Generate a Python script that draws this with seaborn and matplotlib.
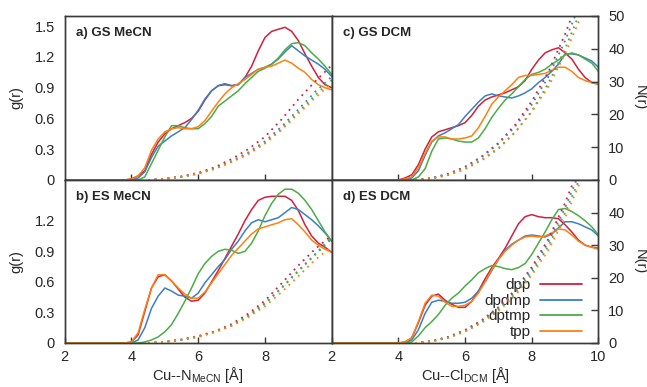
import matplotlib
matplotlib.use("Agg")
import matplotlib.pyplot as plt
import pandas as pd
import seaborn as sns
from matplotlib.lines import Line2D

# ---------------- data ----------------
systems = ["dpp", "dpdmp", "dptmp", "tpp"]
colors = ["#d21f3c", "#3b7fc4", "#4aad45", "#ff8010"]

r_g = [2.0, 3.8, 4.0, 4.2, 4.4, 4.6, 4.8, 5.0, 5.2, 5.4, 5.6, 5.8, 6.0, 6.2, 6.4, 6.6,
       6.8, 7.0, 7.2, 7.4, 7.6, 7.8, 8.0, 8.2, 8.4, 8.6, 8.8, 9.0, 9.2, 9.4, 9.6, 9.8, 10.0]

# a) GS MeCN  g(r)
g_a_dpp   = [0, 0, 0.01, 0.04, 0.09, 0.25, 0.37, 0.45, 0.50, 0.53, 0.56, 0.60, 0.67, 0.78, 0.87, 0.92,
             0.93, 0.92, 0.93, 1.00, 1.11, 1.26, 1.39, 1.45, 1.47, 1.49, 1.45, 1.36, 1.23, 1.11, 1.00, 0.93, 0.90]
g_a_dpdmp = [0, 0, 0, 0.02, 0.08, 0.22, 0.33, 0.38, 0.43, 0.47, 0.51, 0.59, 0.68, 0.79, 0.87, 0.92,
             0.94, 0.92, 0.93, 1.00, 1.04, 1.08, 1.10, 1.13, 1.18, 1.25, 1.31, 1.26, 1.21, 1.17, 1.13, 1.08, 1.01]
g_a_dptmp = [0, 0, 0, 0, 0.03, 0.16, 0.29, 0.42, 0.53, 0.53, 0.51, 0.50, 0.50, 0.55, 0.62, 0.72,
             0.77, 0.82, 0.87, 0.94, 1.00, 1.06, 1.09, 1.13, 1.19, 1.27, 1.33, 1.34, 1.31, 1.24, 1.18, 1.11, 1.03]
g_a_tpp   = [0, 0, 0.01, 0.04, 0.12, 0.29, 0.40, 0.47, 0.50, 0.51, 0.50, 0.50, 0.52, 0.58, 0.67, 0.76,
             0.84, 0.90, 0.94, 0.98, 1.03, 1.08, 1.10, 1.11, 1.14, 1.17, 1.14, 1.09, 1.05, 0.98, 0.93, 0.90, 0.88]

# b) ES MeCN  g(r)
g_b_dpp   = [0, 0, 0.01, 0.08, 0.31, 0.54, 0.65, 0.67, 0.61, 0.53, 0.45, 0.41, 0.42, 0.49, 0.60, 0.71,
             0.83, 0.95, 1.07, 1.20, 1.31, 1.40, 1.43, 1.44, 1.44, 1.44, 1.40, 1.30, 1.16, 1.05, 0.98, 0.94, 0.89]
g_b_dpdmp = [0, 0, 0, 0.03, 0.15, 0.34, 0.46, 0.54, 0.51, 0.47, 0.46, 0.44, 0.49, 0.59, 0.67, 0.75,
             0.82, 0.92, 1.00, 1.10, 1.18, 1.21, 1.19, 1.21, 1.23, 1.28, 1.33, 1.31, 1.26, 1.21, 1.15, 1.08, 1.00]
g_b_dptmp = [0, 0, 0, 0, 0.01, 0.03, 0.06, 0.11, 0.18, 0.29, 0.41, 0.54, 0.68, 0.78, 0.85, 0.90,
             0.92, 0.91, 0.88, 0.90, 0.98, 1.10, 1.25, 1.37, 1.46, 1.51, 1.51, 1.47, 1.40, 1.31, 1.20, 1.09, 1.00]
g_b_tpp   = [0, 0, 0.01, 0.10, 0.33, 0.54, 0.67, 0.67, 0.61, 0.54, 0.48, 0.44, 0.44, 0.50, 0.59, 0.68,
             0.77, 0.86, 0.93, 1.00, 1.07, 1.12, 1.14, 1.16, 1.18, 1.21, 1.22, 1.16, 1.09, 1.01, 0.96, 0.92, 0.89]

# c) GS DCM  g(r)
g_c_dpp   = [0, 0, 0, 0.02, 0.05, 0.15, 0.30, 0.42, 0.47, 0.49, 0.51, 0.53, 0.56, 0.63, 0.72, 0.78,
             0.81, 0.83, 0.85, 0.88, 0.91, 0.97, 1.08, 1.17, 1.24, 1.27, 1.29, 1.24, 1.18, 1.08, 1.00, 0.95, 0.95]
g_c_dpdmp = [0, 0, 0, 0, 0.02, 0.09, 0.24, 0.37, 0.43, 0.46, 0.50, 0.54, 0.62, 0.69, 0.76, 0.82,
             0.84, 0.82, 0.81, 0.80, 0.82, 0.85, 0.89, 0.95, 1.00, 1.06, 1.13, 1.23, 1.23, 1.22, 1.19, 1.16, 1.10]
g_c_dptmp = [0, 0, 0, 0, 0, 0.03, 0.11, 0.28, 0.40, 0.41, 0.40, 0.38, 0.37, 0.37, 0.41, 0.50,
             0.61, 0.70, 0.78, 0.84, 0.91, 0.98, 1.03, 1.05, 1.08, 1.13, 1.17, 1.22, 1.24, 1.22, 1.18, 1.14, 1.06]
g_c_tpp   = [0, 0, 0, 0.01, 0.03, 0.12, 0.26, 0.38, 0.42, 0.42, 0.40, 0.40, 0.41, 0.43, 0.51, 0.62,
             0.74, 0.81, 0.87, 0.93, 1.00, 1.02, 1.02, 1.03, 1.04, 1.07, 1.10, 1.10, 1.06, 1.00, 0.97, 0.95, 0.93]

# d) ES DCM  g(r)
g_d_dpp   = [0, 0, 0, 0.01, 0.05, 0.20, 0.37, 0.46, 0.48, 0.42, 0.38, 0.35, 0.35, 0.41, 0.51, 0.63,
             0.74, 0.83, 0.93, 1.05, 1.17, 1.24, 1.26, 1.24, 1.23, 1.23, 1.22, 1.16, 1.09, 1.01, 0.96, 0.94, 0.93]
g_d_dpdmp = [0, 0, 0, 0, 0.03, 0.13, 0.29, 0.40, 0.42, 0.41, 0.39, 0.39, 0.40, 0.44, 0.51, 0.60,
             0.71, 0.82, 0.91, 0.97, 1.01, 1.05, 1.06, 1.05, 1.04, 1.07, 1.13, 1.19, 1.19, 1.17, 1.14, 1.11, 1.05]
g_d_dptmp = [0, 0, 0, 0, 0.01, 0.07, 0.15, 0.21, 0.28, 0.37, 0.44, 0.49, 0.56, 0.62, 0.69, 0.73,
             0.76, 0.75, 0.73, 0.72, 0.74, 0.78, 0.87, 0.98, 1.09, 1.21, 1.31, 1.32, 1.29, 1.25, 1.20, 1.14, 1.06]
g_d_tpp   = [0, 0, 0, 0.01, 0.05, 0.21, 0.39, 0.47, 0.46, 0.40, 0.36, 0.36, 0.37, 0.41, 0.49, 0.60,
             0.72, 0.82, 0.90, 0.96, 1.01, 1.04, 1.05, 1.04, 1.05, 1.08, 1.12, 1.11, 1.06, 1.00, 0.96, 0.94, 0.92]

# running coordination numbers N(r)
r_n = [4.5, 5.0, 5.5, 6.0, 6.5, 7.0, 7.5, 8.0, 8.5, 9.0, 9.5, 10.0]
n_a_dpp   = [0, 0.4, 1.1, 2.2, 3.9, 6.4, 9.4, 13.2, 18.5, 24.6, 30.0, 35.0]
n_a_dpdmp = [0, 0.4, 1.0, 2.0, 3.6, 5.8, 8.4, 11.8, 16.3, 21.5, 26.8, 31.5]
n_a_dptmp = [0, 0.3, 0.9, 1.9, 3.4, 5.5, 8.0, 11.3, 15.7, 20.7, 25.8, 30.5]
n_a_tpp   = [0, 0.4, 1.0, 2.0, 3.4, 5.5, 7.9, 11.1, 15.3, 20.2, 25.0, 29.5]

n_b_dpp   = [0, 0.4, 1.1, 2.1, 3.6, 5.8, 9.0, 13.0, 18.3, 23.8, 28.8, 33.0]
n_b_dpdmp = [0, 0.4, 1.0, 2.0, 3.5, 5.5, 8.4, 12.2, 17.0, 22.2, 27.2, 32.5]
n_b_dptmp = [0, 0.3, 0.9, 1.9, 3.4, 5.4, 8.3, 12.0, 16.8, 22.0, 27.0, 32.0]
n_b_tpp   = [0, 0.4, 1.0, 1.9, 3.3, 5.2, 7.9, 11.3, 15.6, 20.5, 25.5, 29.5]

n_c_dpp   = [0, 0.6, 1.9, 4.0, 7.2, 11.3, 16.8, 24.0, 33.0, 44.5, 58.0, 72.0]
n_c_dpdmp = [0, 0.6, 1.9, 4.0, 7.0, 11.0, 16.3, 23.0, 31.5, 42.5, 55.0, 69.0]
n_c_dptmp = [0, 0.4, 1.5, 3.3, 6.0, 9.5, 14.5, 21.0, 29.5, 40.0, 52.5, 66.0]
n_c_tpp   = [0, 0.5, 1.6, 3.5, 6.2, 9.8, 14.6, 20.8, 28.5, 38.5, 50.5, 64.0]

n_d_dpp   = [0, 0.6, 1.9, 4.0, 7.0, 11.0, 16.3, 23.3, 32.0, 43.0, 56.0, 70.0]
n_d_dpdmp = [0, 0.6, 1.8, 3.9, 6.8, 10.7, 15.8, 22.5, 31.0, 41.5, 54.0, 68.0]
n_d_dptmp = [0, 0.5, 1.6, 3.6, 6.4, 10.2, 15.2, 21.6, 29.8, 40.0, 52.0, 66.0]
n_d_tpp   = [0, 0.5, 1.6, 3.5, 6.2, 9.8, 14.6, 20.8, 28.6, 38.5, 50.5, 64.0]

panel_titles = ["a) GS MeCN", "b) ES MeCN", "c) GS DCM", "d) ES DCM"]
g_sets = [[g_a_dpp, g_a_dpdmp, g_a_dptmp, g_a_tpp],
          [g_b_dpp, g_b_dpdmp, g_b_dptmp, g_b_tpp],
          [g_c_dpp, g_c_dpdmp, g_c_dptmp, g_c_tpp],
          [g_d_dpp, g_d_dpdmp, g_d_dptmp, g_d_tpp]]
n_sets = [[n_a_dpp, n_a_dpdmp, n_a_dptmp, n_a_tpp],
          [n_b_dpp, n_b_dpdmp, n_b_dptmp, n_b_tpp],
          [n_c_dpp, n_c_dpdmp, n_c_dptmp, n_c_tpp],
          [n_d_dpp, n_d_dpdmp, n_d_dptmp, n_d_tpp]]

# ---------------- style ----------------
sns.set_style("ticks")
plt.rcParams["font.family"] = ["Liberation Sans", "DejaVu Sans"]
plt.rcParams["mathtext.fontset"] = "custom"
plt.rcParams["mathtext.rm"] = "Liberation Sans"
plt.rcParams["mathtext.it"] = "Liberation Sans:italic"
plt.rcParams["mathtext.bf"] = "Liberation Sans:bold"

palette = dict(zip(systems, colors))
spine_col = "#3a3a3a"

fig = plt.figure(figsize=(6.47, 3.87), dpi=100)
L, M, R = 0.100, 0.5127, 0.925
T, C, B = 0.9587, 0.5349, 0.1137
positions = [[L, C, M - L, T - C], [L, B, M - L, C - B],
             [M, C, R - M, T - C], [M, B, R - M, C - B]]

fs = 10.5
for i, pos in enumerate(positions):
    ax = fig.add_axes(pos)
    tw = ax.twinx()
    rows = []
    for s, g in zip(systems, g_sets[i]):
        for r, v in zip(r_g, g):
            rows.append((s, r, v))
    dfg = pd.DataFrame(rows, columns=["system", "r", "g"])
    rows = []
    for s, n in zip(systems, n_sets[i]):
        for r, v in zip(r_n, n):
            rows.append((s, r, v))
    dfn = pd.DataFrame(rows, columns=["system", "r", "N"])

    sns.lineplot(data=dfg, x="r", y="g", hue="system", palette=palette, ax=ax,
                 legend=False, estimator=None, sort=False, linewidth=1.1)
    sns.lineplot(data=dfn, x="r", y="N", hue="system", palette=palette, ax=tw,
                 legend=False, estimator=None, sort=False, linewidth=1.3,
                 linestyle=(0, (1, 2.6)))

    ax.set_xlim(2, 10)
    ax.set_ylim(0, 1.6)
    tw.set_ylim(0, 50)
    ax.set_xlabel("")
    ax.set_ylabel("")
    tw.set_ylabel("")

    for a in (ax, tw):
        for sp in a.spines.values():
            sp.set_visible(True)
            sp.set_color(spine_col)
            sp.set_linewidth(1.0)

    left = i < 2
    top = i in (0, 2)

    # y (g) axis
    if left:
        ax.set_yticks([0, 0.3, 0.6, 0.9, 1.2, 1.5] if top else [0, 0.3, 0.6, 0.9, 1.2])
        ax.set_yticklabels(["0", "0.3", "0.6", "0.9", "1.2", "1.5"] if top else ["0", "0.3", "0.6", "0.9", "1.2"])
        ax.tick_params(axis="y", length=0, pad=7, labelsize=fs)
        ax.set_ylabel("g(r)", fontsize=fs, labelpad=8)
        tw.set_yticks([])
    else:
        ax.set_yticks([])
        tw.set_yticks([0, 10, 20, 30, 40, 50] if top else [0, 10, 20, 30, 40])
        tw.tick_params(axis="y", direction="in", length=5, width=1.0, color=spine_col,
                       pad=7, labelsize=fs)
        tw.set_ylabel("N(r)", fontsize=fs, rotation=-90, labelpad=16)

    # x axis
    if top:
        ax.set_xticks([4, 6, 8])
        ax.tick_params(axis="x", direction="in", length=4, width=1.0, color=spine_col,
                       labelbottom=False)
    else:
        ax.set_xticks([2, 4, 6, 8] if left else [2, 4, 6, 8, 10])
        ax.tick_params(axis="x", direction="in", length=4, width=1.0, color=spine_col,
                       pad=5, labelsize=fs)
        if left:
            ax.set_xlabel("Cu--N$_{\\mathrm{MeCN}}$ [Å]", fontsize=fs, labelpad=1)
        else:
            ax.set_xlabel("Cu--Cl$_{\\mathrm{DCM}}$ [Å]", fontsize=fs, labelpad=1)

    ax.text(0.042, 0.895, panel_titles[i], transform=ax.transAxes, fontsize=9.5,
            fontweight="bold", ha="left", va="center")

    if i == 3:
        handles = [Line2D([], [], color=c, linewidth=1.3) for c in colors]
        ax.legend(handles, systems, loc="lower right", bbox_to_anchor=(0.94, 0.025),
                  frameon=False, markerfirst=False, fontsize=11, handlelength=2.8,
                  handletextpad=0.6, labelspacing=0.1, borderpad=0, borderaxespad=0)

fig.savefig("out.png", dpi=100)
